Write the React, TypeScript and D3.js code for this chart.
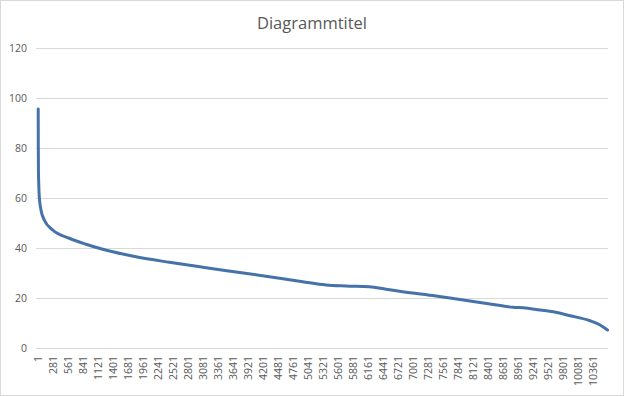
import React from "react";
import * as d3 from "d3";

const W = 624;
const H = 396;

const title = "Diagrammtitel";
const totalPoints = 10630;

// Point index (category number) and value
const sampleIndex = [1, 3, 6, 10, 21, 53, 115, 272, 582, 893, 1205, 1827, 2449, 3072, 3694, 4316, 4939, 5374, 5748, 6183, 6495, 6806, 7428, 7938, 8562, 8872, 9059, 9371, 9620, 9932, 10305, 10492, 10630];
const sampleValue = [95.6, 80, 70, 66.5, 60.5, 55.2, 51.2, 47.2, 43.9, 41.5, 39.5, 36.5, 34.3, 32.3, 30.4, 28.5, 26.5, 25.2, 24.8, 24.5, 23.5, 22.5, 20.8, 19.2, 17.2, 16.3, 16.1, 15.2, 14.5, 12.9, 10.9, 9.2, 7.2];

const xTickLabels = [1, 281, 561, 841, 1121, 1401, 1681, 1961, 2241, 2521, 2801, 3081, 3361, 3641, 3921, 4201, 4481, 4761, 5041, 5321, 5601, 5881, 6161, 6441, 6721, 7001, 7281, 7561, 7841, 8121, 8401, 8681, 8961, 9241, 9521, 9801, 10081, 10361];
const yTicks = [0, 20, 40, 60, 80, 100, 120];

const plotLeft = 36;
const plotRight = 608;

export default function App() {
  const x = d3.scaleLinear().domain([1, totalPoints]).range([38.2, 607.5]);
  const y = d3.scaleLinear().domain([0, 120]).range([348, 48]);

  const pts = sampleIndex.map((i, k) => [i, sampleValue[k]] as [number, number]);
  const line = d3
    .line<[number, number]>()
    .x((d) => x(d[0]))
    .y((d) => y(d[1]))
    .curve(d3.curveMonotoneX);

  const labelFont = "'Open Sans', 'Liberation Sans', sans-serif";

  return (
    <svg
      width={W}
      height={H}
      style={{ position: "absolute", left: 0, top: 0, background: "#fff" }}
    >
      <rect x={0.5} y={0.5} width={W - 1} height={H - 1} fill="#fff" stroke="#D9D9D9" />
      <text
        x={312}
        y={29}
        textAnchor="middle"
        fontFamily={labelFont}
        fontSize={16.5}
        fill="#595959"
      >
        {title}
      </text>
      {yTicks.map((t) => (
        <g key={t}>
          <line
            x1={plotLeft}
            x2={plotRight}
            y1={Math.round(y(t)) + 0.5}
            y2={Math.round(y(t)) + 0.5}
            stroke="#D9D9D9"
            strokeWidth={1}
          />
          <text
            x={27}
            y={y(t)}
            dy="0.35em"
            textAnchor="end"
            fontFamily={labelFont}
            fontSize={10.5}
            fill="#595959"
          >
            {t}
          </text>
        </g>
      ))}
      {xTickLabels.map((t) => (
        <text
          key={t}
          transform={`translate(${x(t) + 3.6},356) rotate(-90)`}
          textAnchor="end"
          fontFamily={labelFont}
          fontSize={10.5}
          fill="#595959"
        >
          {t}
        </text>
      ))}
      <path
        d={line(pts) || ""}
        fill="none"
        stroke="#4672AA"
        strokeWidth={3}
        strokeLinejoin="round"
        strokeLinecap="round"
      />
    </svg>
  );
}
